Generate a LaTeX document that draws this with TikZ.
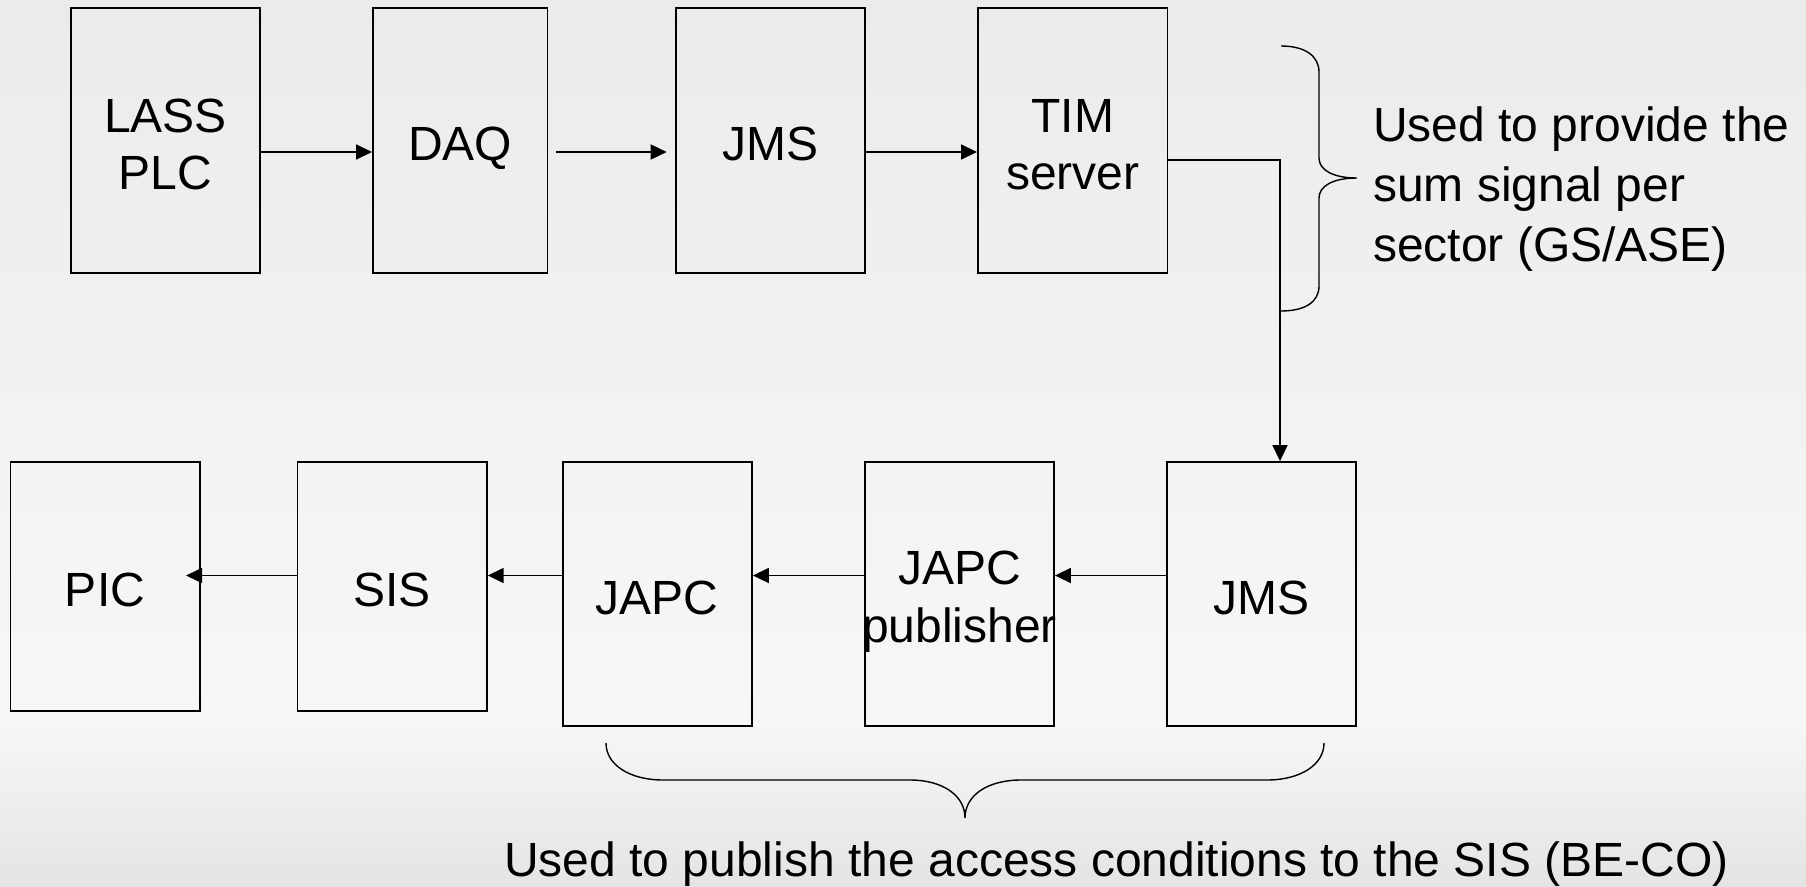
\documentclass[tikz,border=0pt]{standalone}
\usepackage{fontspec}
\setmainfont{Liberation Sans}
\usetikzlibrary{arrows.meta,calc}
\definecolor{bgtop}{HTML}{EBEBEB}
\definecolor{bgmid}{HTML}{F7F7F7}
\definecolor{bgbot}{HTML}{E4E4E4}
\newcommand\zl[1]{\makebox[0pt]{\rule[-8.6pt]{0pt}{57.6pt}#1}}
\newcommand\lsr{\rule[-8.6pt]{0pt}{57.6pt}}
\begin{document}
\begin{tikzpicture}[x=1pt,y=-1pt,
  blk/.style={draw=black, line width=1.8pt, rectangle, inner sep=0pt, align=center,
    font=\fontsize{48}{57.6}\selectfont},
  conn/.style={line width=1.6pt, -{Triangle[length=16pt,width=15pt]}},
  brc/.style={line width=1.4pt},
  txt/.style={inner sep=0pt, font=\fontsize{48}{57.6}\selectfont}]
% background
\shade[top color=bgtop, bottom color=bgmid] (0,0) rectangle (1806,721);
\shade[top color=bgmid, bottom color=bgbot] (0,720) rectangle (1806,886);
\useasboundingbox (0,0) rectangle (1806,886);
% top row
\node[blk, minimum width=189pt, minimum height=265pt] (lass) at (165.6,140.6) {\zl{LASS}\\\zl{PLC}};
\node[blk, minimum width=174.5pt, minimum height=265pt] (daq) at (460.2,140.6) {\zl{DAQ}};
\node[blk, minimum width=189pt, minimum height=265pt] (jmsa) at (770.5,140.6) {\zl{JMS}};
\node[blk, minimum width=189.5pt, minimum height=265pt] (tim) at (1072.7,140.6) {\zl{TIM}\\\zl{server}};
% bottom row
\node[blk, minimum width=189.2pt, minimum height=249pt] (pic) at (105,586.5) {\zl{PIC}};
\node[blk, minimum width=189.4pt, minimum height=249pt] (sis) at (392.1,586.5) {\zl{SIS}};
\node[blk, minimum width=189.4pt, minimum height=264pt] (japc) at (657.3,594) {\zl{JAPC}};
\node[blk, minimum width=189pt, minimum height=264pt] (japcpub) at (959.5,594) {\zl{JAPC}\\\zl{publisher}};
\node[blk, minimum width=189pt, minimum height=264pt] (jmsb) at (1261.5,594) {\zl{JMS}};
% helper coordinates
\coordinate (ya) at (0,152);
\coordinate (yb) at (0,575.5);
\coordinate (turn) at (1280,160);
% top connectors
\draw[conn] (lass.east |- ya) -- (daq.west |- ya);
\draw[conn] ($(daq.east |- ya)+(7.5,0)$) -- ($(jmsa.west |- ya)+(-8.4,0)$);
\draw[conn] (jmsa.east |- ya) -- (tim.west |- ya);
\draw[conn] (tim.east |- turn) -- (turn) -- (turn |- jmsb.north);
% bottom connectors
\draw[conn] (jmsb.west |- yb) -- (japcpub.east |- yb);
\draw[conn] (japcpub.west |- yb) -- (japc.east |- yb);
\draw[conn] (japc.west |- yb) -- (sis.east |- yb);
\draw[conn] (sis.west |- yb) -- ($(pic.east |- yb)+(-14.5,0)$);
% braces
\draw[brc] (1281,46) .. controls (1305,46) and (1319,56) .. (1319,72) -- (1319,158)
  .. controls (1319,170) and (1333,178) .. (1357,178)
  .. controls (1333,178) and (1319,186) .. (1319,198) -- (1319,286)
  .. controls (1319,302) and (1305,311) .. (1281,311);
\draw[brc] (606,743) .. controls (606,765) and (630,780) .. (663,780) -- (910,780)
  .. controls (942,780) and (965,795) .. (965,818)
  .. controls (965,795) and (988,780) .. (1021,780) -- (1267,780)
  .. controls (1300,780) and (1324,765) .. (1324,743);
% notes
\node[txt, anchor=north west, align=left] (note1) at (1373,92)
  {\lsr Used to provide the\\\lsr sum signal per\\\lsr sector (GS/ASE)};
\node[txt, anchor=base west] (note2) at (504,876.7)
  {Used to publish the access conditions to the SIS (BE-CO)};
\end{tikzpicture}
\end{document}
